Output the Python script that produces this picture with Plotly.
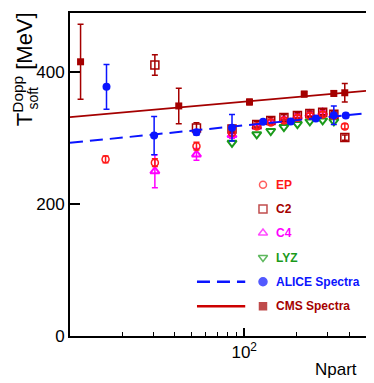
import plotly.graph_objects as go

# CMS spectra (filled squares) and its fit line
cms_npart = [11.5, 42.1, 107.2, 221, 326.8, 377.7]
cms_T = [416, 349, 355, 367, 368, 369]
cms_err = [57, 27, 4, 4, 4, 14]
cms_fit_x = [10, 500]
cms_fit_y = [332, 372]

# ALICE spectra (filled circles) and its fit line
alice_npart = [16.2, 30.4, 53.2, 85.1, 128.4, 184.8, 257.8, 326.8, 382.8]
alice_T = [378, 304, 309, 316, 325, 325.5, 330, 335, 334.6]
alice_err = [34, 29, 4, 20, 3, 3, 3, 14, 3]
alice_fit_x = [10, 500]
alice_fit_y = [293, 338]

# flow methods
ep_npart = [16.0, 30.7, 53.2, 85.1, 118, 142, 169, 202, 238, 282, 327, 378]
ep_T = [268, 263, 288, 308, 318, 324, 327, 331, 334, 336, 334, 318]
ep_err = [5, 6, 6, 4, 4, 4, 4, 4, 4, 4, 4, 4]

c2_npart = [30.7, 53.2, 85.1, 118, 142, 169, 202, 238, 282, 327, 378]
c2_T = [411, 315.5, 314, 321, 327, 331.5, 334.6, 337.5, 339.5, 336.5, 301]
c2_err = [15.5, 8, 4, 4, 4, 4, 4, 4, 4, 4, 4]

c4_npart = [30.7, 53.2, 85.1, 118, 142, 169, 202, 238, 282, 327]
c4_T = [250, 275.5, 305, 318, 324.5, 328, 333, 336.5, 339, 335]
c4_err = [25, 9, 5, 4, 4, 4, 4, 4, 4, 4]

lyz_npart = [85.1, 118, 142, 169, 202, 238, 282, 327]
lyz_T = [293, 306, 311, 317, 321.5, 325.5, 327, 325.6]

RED = '#ff1a1a'
DRED = '#a50000'
MAG = '#ff00ff'
GRN = '#1a9a1a'
BLUE = '#0a14ff'

legend_names = ['EP', 'C2', 'C4', 'LYZ', 'ALICE Spectra', 'CMS Spectra']
legend_colors = [RED, DRED, MAG, GRN, BLUE, DRED]
legend_symbols = ['circle-open', 'square-open', 'triangle-up-open', 'triangle-down-open', 'circle', 'square']

fig = go.Figure()


def err(arr, color):
    return dict(type='data', array=arr, color=color, thickness=1.5, width=3)


fig.add_trace(go.Scatter(x=lyz_npart, y=lyz_T, mode='markers',
                         marker=dict(symbol='triangle-down-open', size=8, color=GRN, line=dict(width=2))))
fig.add_trace(go.Scatter(x=c4_npart, y=c4_T, mode='markers', error_y=err(c4_err, MAG),
                         marker=dict(symbol='triangle-up-open', size=8, color=MAG, line=dict(width=2))))
fig.add_trace(go.Scatter(x=c2_npart, y=c2_T, mode='markers', error_y=err(c2_err, DRED),
                         marker=dict(symbol='square-open', size=8, color=DRED, line=dict(width=1.5))))
fig.add_trace(go.Scatter(x=ep_npart, y=ep_T, mode='markers', error_y=err(ep_err, RED),
                         marker=dict(symbol='circle-open', size=7, color=RED, line=dict(width=1.5))))
fig.add_trace(go.Scatter(x=alice_fit_x, y=alice_fit_y, mode='lines',
                         line=dict(color=BLUE, width=2, dash='13px,7px')))
fig.add_trace(go.Scatter(x=cms_fit_x, y=cms_fit_y, mode='lines',
                         line=dict(color=DRED, width=1.8)))
fig.add_trace(go.Scatter(x=alice_npart, y=alice_T, mode='markers', error_y=err(alice_err, BLUE),
                         marker=dict(symbol='circle', size=8, color=BLUE)))
fig.add_trace(go.Scatter(x=cms_npart, y=cms_T, mode='markers', error_y=err(cms_err, DRED),
                         marker=dict(symbol='square', size=7, color=DRED)))

# hand drawn legend on an overlay axis in [0,1]
rows = [0.468, 0.393, 0.319, 0.243, 0.168, 0.092]
fig.add_trace(go.Scatter(x=[0.652] * 6, y=rows, mode='markers', xaxis='x2', yaxis='y2',
                         marker=dict(symbol=legend_symbols, size=[7, 8, 8, 8, 8, 7],
                                     color=legend_colors, line=dict(width=1.5, color=legend_colors))))
fig.add_trace(go.Scatter(x=[0.429, 0.592], y=[rows[4]] * 2, mode='lines', xaxis='x2', yaxis='y2',
                         line=dict(color=BLUE, width=2.5, dash='13px,7px')))
fig.add_trace(go.Scatter(x=[0.429, 0.592], y=[rows[5]] * 2, mode='lines', xaxis='x2', yaxis='y2',
                         line=dict(color='#cc0000', width=2.5)))
for name, col, yy in zip(legend_names, legend_colors, rows):
    fig.add_annotation(x=0.69, y=yy, xref='x2', yref='y2', text='<b>%s</b>' % name, showarrow=False,
                       xanchor='left', yanchor='middle', font=dict(size=12, color=col))

# y title
fig.add_annotation(x=-0.16, y=0.825, xref='paper', yref='paper', text='T<sup>Dopp</sup> [MeV]',
                   textangle=-90, showarrow=False, font=dict(size=22, color='black'),
                   xanchor='center', yanchor='middle')
fig.add_annotation(x=-0.125, y=0.735, xref='paper', yref='paper', text='soft',
                   textangle=-90, showarrow=False, font=dict(size=14, color='black'),
                   xanchor='center', yanchor='middle')
fig.add_annotation(x=0.976, y=-0.103, xref='paper', yref='paper', text='Npart', showarrow=False,
                   font=dict(size=17, color='black'), xanchor='right', yanchor='middle')

fig.update_layout(
    width=374, height=383,
    margin=dict(l=62, r=16, t=3, b=55),
    paper_bgcolor='white', plot_bgcolor='white',
    showlegend=False,
    font=dict(family='Liberation Sans, Arial, sans-serif', size=17, color='black'),
    xaxis=dict(type='log', range=[1.0, 2.699], tickmode='array', tickvals=[100],
               ticktext=['10<sup>2</sup>'], ticks='inside', ticklen=8, tickwidth=1.5,
               tickcolor='black', showline=True, linecolor='black', linewidth=2, mirror=True,
               showgrid=False, zeroline=False,
               minor=dict(tickmode='array', tickvals=[20, 30, 40, 50, 60, 70, 80, 90, 200, 300, 400],
                          ticks='inside', ticklen=4, tickwidth=1.2, tickcolor='black', showgrid=False)),
    yaxis=dict(range=[0, 490], tickvals=[0, 200, 400], ticks='inside', ticklen=10, tickwidth=1.5,
               tickcolor='black', showline=True, linecolor='black', linewidth=2, mirror=True,
               showgrid=False, zeroline=False),
    xaxis2=dict(overlaying='x', range=[0, 1], visible=False, anchor='y2'),
    yaxis2=dict(overlaying='y', range=[0, 1], visible=False, anchor='x2'),
)

fig.write_html("out.html")
